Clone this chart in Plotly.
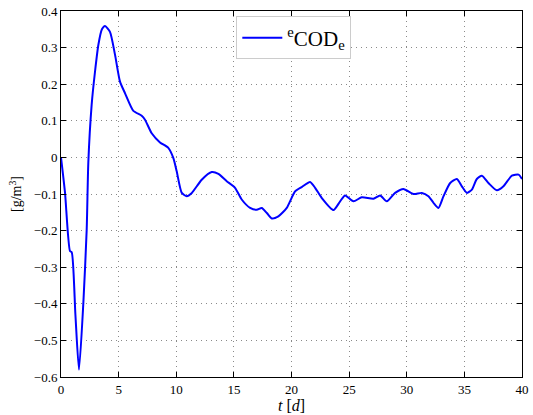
import plotly.graph_objects as go

# Effluent COD error over the simulation horizon
t_days = [0.0, 0.35, 0.78, 0.93, 1.25, 1.56, 1.94, 2.23, 2.37, 2.66, 2.95, 3.24, 3.55, 3.82,
          4.25, 4.69, 5.12, 5.56, 6.28, 7.0, 7.29, 7.87, 8.59, 9.31, 9.75, 10.04, 10.48,
          10.91, 11.35, 12.21, 13.08, 13.66, 14.38, 15.1, 15.68, 16.41, 16.99, 17.42,
          17.86, 18.29, 18.86, 19.59, 20.31, 20.89, 21.61, 22.05, 22.63, 23.64, 24.22,
          24.65, 25.37, 26.1, 27.11, 27.69, 28.27, 28.99, 29.71, 30.58, 31.31, 31.88,
          32.32, 32.75, 33.19, 33.77, 34.35, 34.78, 35.22, 35.65, 36.08, 36.52, 37.09,
          37.82, 38.39, 39.12, 39.7, 40.0]
e_cod = [0.0, -0.097, -0.256, -0.259, -0.43, -0.580, -0.397, -0.197, -0.015, 0.144, 0.234,
         0.307, 0.350, 0.359, 0.343, 0.280, 0.207, 0.175, 0.127, 0.114, 0.103, 0.066, 0.041,
         0.026, -0.002, -0.038, -0.097, -0.106, -0.097, -0.061, -0.040, -0.045, -0.065,
         -0.083, -0.115, -0.138, -0.143, -0.138, -0.152, -0.167, -0.161, -0.138, -0.093,
         -0.081, -0.067, -0.083, -0.111, -0.144, -0.120, -0.104, -0.120, -0.109, -0.113,
         -0.104, -0.120, -0.097, -0.086, -0.100, -0.097, -0.106, -0.124, -0.138, -0.106,
         -0.070, -0.059, -0.079, -0.097, -0.088, -0.059, -0.050, -0.070, -0.090, -0.079,
         -0.050, -0.047, -0.059]

x_ticks = [0, 5, 10, 15, 20, 25, 30, 35, 40]
y_ticks = [-0.6, -0.5, -0.4, -0.3, -0.2, -0.1, 0, 0.1, 0.2, 0.3, 0.4]

serif = "Times New Roman"

fig = go.Figure()
fig.add_trace(go.Scatter(
    x=t_days, y=e_cod, mode="lines",
    line=dict(color="#0000FF", width=2, shape="spline", smoothing=0.6),
    name="<sup>e</sup>COD<sub>e</sub>",
))

axis_common = dict(
    showline=True, linecolor="black", linewidth=1, mirror="allticks",
    ticks="inside", ticklen=5, tickcolor="black",
    showgrid=True, gridcolor="#8a8a8a", griddash="1px,4px", gridwidth=1,
    zeroline=False, automargin=False,
    tickfont=dict(family=serif, size=13, color="black"),
)

fig.update_xaxes(range=[0, 40], tickvals=x_ticks, ticktext=[str(v) for v in x_ticks],
                 title=dict(text="<i>t</i> [<i>d</i>]", font=dict(family=serif, size=16, color="black"),
                            standoff=2),
                 **axis_common)
fig.update_yaxes(range=[-0.6, 0.4], tickvals=y_ticks,
                 ticktext=[("0" if v == 0 else f"{v:.1f}".replace("-", "\u2212")) for v in y_ticks],
                 title=dict(text="[g/m<sup>3</sup>]", font=dict(family=serif, size=14, color="black"),
                            standoff=8),
                 **axis_common)

fig.update_layout(
    width=533, height=415,
    margin=dict(l=61, r=11, t=11, b=38),
    paper_bgcolor="white", plot_bgcolor="white",
    font=dict(family=serif),
    showlegend=True,
    legend=dict(x=0.505, y=0.985, xanchor="center", yanchor="top",
                bgcolor="white", bordercolor="#cccccc", borderwidth=1,
                font=dict(family=serif, size=21, color="black"),
                itemwidth=40),
)

fig.write_html("out.html")
